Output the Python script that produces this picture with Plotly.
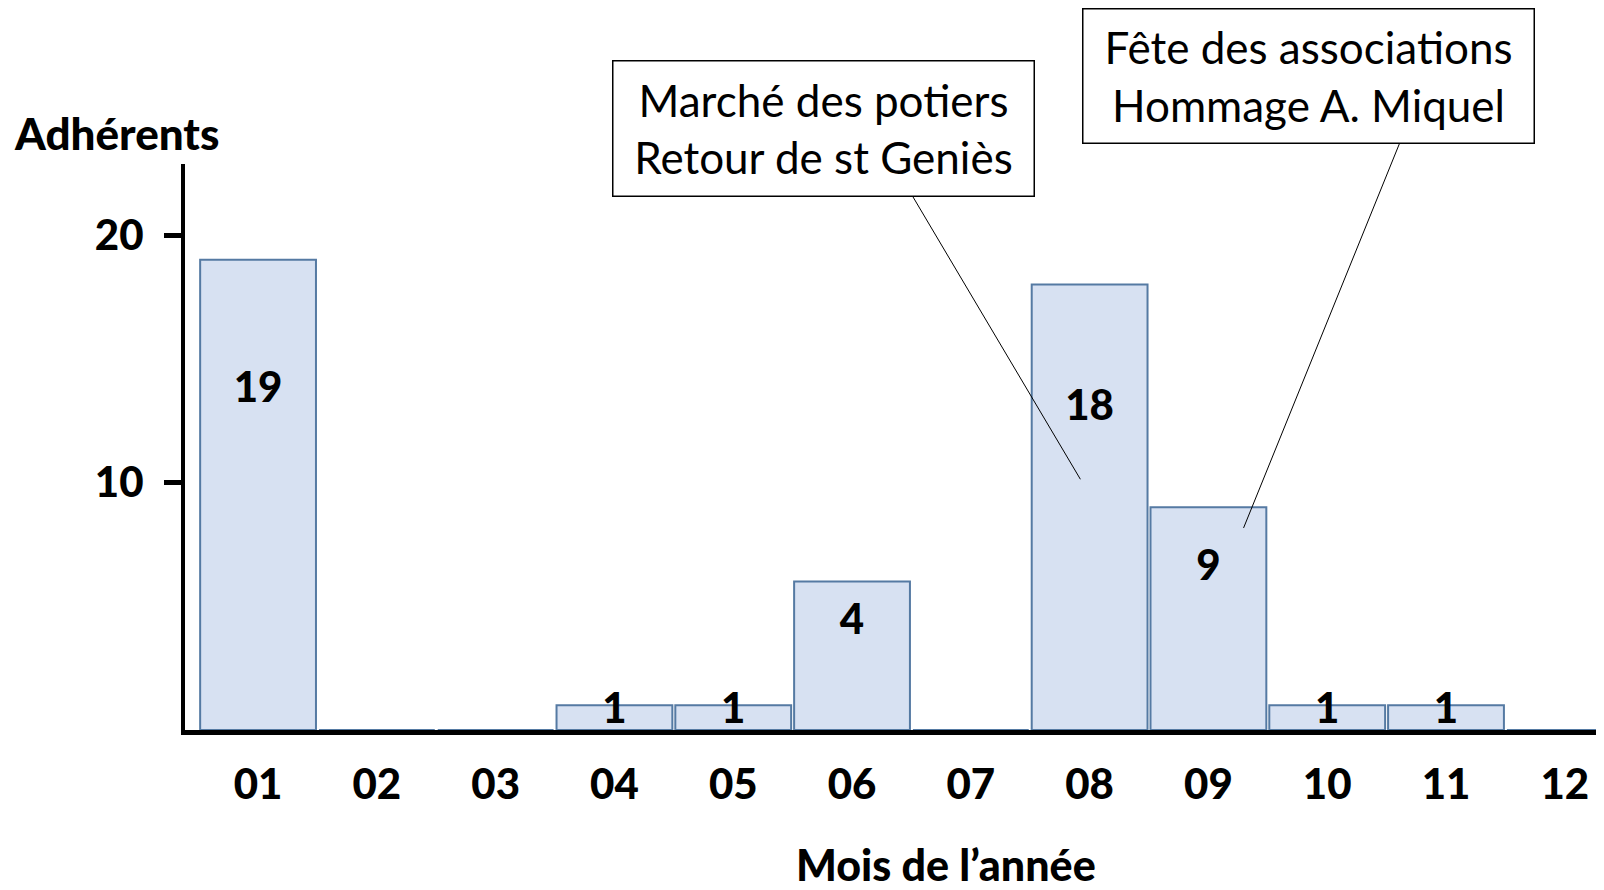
import plotly.graph_objects as go

months = ["01", "02", "03", "04", "05", "06", "07", "08", "09", "10", "11", "12"]
heights = [19, 0, 0, 1, 1, 6, 0, 18, 9, 1, 1, 0]
labels = ["19", "", "", "1", "1", "4", "", "18", "9", "1", "1", ""]
month_pos = list(range(1, 13))

box1_text = "Marché des potiers<br>Retour de st Geniès"
box2_text = "Fête des associations<br>Hommage A. Miquel"

BOLD = "Lato"
W = 900
FILL = "#D7E1F2"
EDGE = "#557AA3"

fig = go.Figure()
fig.add_trace(go.Bar(
    x=month_pos, y=heights, width=0.975,
    marker=dict(color=FILL, line=dict(color=EDGE, width=2)),
    hoverinfo="skip", showlegend=False,
))
fig.add_trace(go.Scatter(
    x=month_pos, y=[h * 0.72 for h in heights], text=labels, mode="text",
    textfont=dict(family=BOLD, size=42, color="black", weight=W),
    hoverinfo="skip", showlegend=False, cliponaxis=False,
))

fig.update_layout(
    width=1596, height=882,
    margin=dict(l=177, r=0, t=156, b=160, autoexpand=False),
    plot_bgcolor="white", paper_bgcolor="white",
    xaxis=dict(
        range=[0.385, 12.33], tickvals=month_pos, ticktext=months,
        showline=True, linecolor="black", linewidth=5,
        ticks="", showgrid=False, zeroline=False,
        tickfont=dict(family=BOLD, size=42, color="black", weight=W),
        ticklabelstandoff=14,
    ),
    yaxis=dict(
        range=[0, 22.87], tickvals=[10, 20], ticktext=["10", "20"],
        showline=True, linecolor="black", linewidth=4,
        ticks="outside", ticklen=17, tickwidth=5, tickcolor="black",
        showgrid=False, zeroline=False,
        tickfont=dict(family=BOLD, size=42, color="black", weight=W),
        ticklabelstandoff=12,
    ),
    annotations=[
        dict(text="Adhérents", xref="paper", yref="paper", x=-0.048, y=1.055,
             xanchor="center", yanchor="middle",
             showarrow=False, font=dict(family=BOLD, size=44, color="black", weight=W)),
        dict(text="Mois de l’année", xref="paper", yref="paper", x=0.536, y=-0.238,
             xanchor="center", yanchor="middle",
             showarrow=False, font=dict(family=BOLD, size=43, color="black", weight=W)),
        dict(text=box1_text, xref="paper", yref="paper", x=0.450, y=1.062,
             xanchor="center", yanchor="middle", width=400, height=114,
             showarrow=False, align="center", bordercolor="black", borderwidth=1.5,
             borderpad=10, bgcolor="white",
             font=dict(family="Lato", size=44, color="black")),
        dict(text=box2_text, xref="paper", yref="paper", x=0.792, y=1.156,
             xanchor="center", yanchor="middle", width=430, height=113,
             showarrow=False, align="center", bordercolor="black", borderwidth=1.5,
             borderpad=10, bgcolor="white",
             font=dict(family="Lato", size=44, color="black")),
    ],
    shapes=[
        dict(type="line", xref="paper", yref="paper", x0=0.513, y0=0.942, x1=0.631, y1=0.443,
             line=dict(color="black", width=1)),
        dict(type="line", xref="paper", yref="paper", x0=0.856, y0=1.037, x1=0.746, y1=0.357,
             line=dict(color="black", width=1)),
    ],
)

fig.write_html("out.html")
